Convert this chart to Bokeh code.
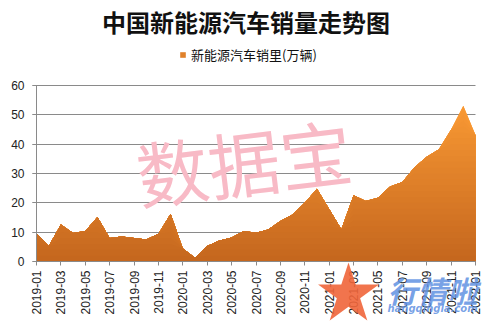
import numpy as np
from bokeh.plotting import figure
from bokeh.models import (Range1d, FixedTicker, Legend, LegendItem)
from bokeh.core.properties import value
from bokeh.embed import file_html
from bokeh.resources import INLINE

# ---- data ----
months = ["2019-01", "2019-02", "2019-03", "2019-04", "2019-05", "2019-06",
          "2019-07", "2019-08", "2019-09", "2019-10", "2019-11", "2019-12",
          "2020-01", "2020-02", "2020-03", "2020-04", "2020-05", "2020-06",
          "2020-07", "2020-08", "2020-09", "2020-10", "2020-11", "2020-12",
          "2021-01", "2021-02", "2021-03", "2021-04", "2021-05", "2021-06",
          "2021-07", "2021-08", "2021-09", "2021-10", "2021-11", "2021-12",
          "2022-01"]
sales = [9.6, 5.3, 12.6, 9.7, 10.4, 15.2, 8.0, 8.5, 8.0, 7.5, 9.5, 16.3,
         4.4, 1.3, 5.3, 7.2, 8.2, 10.4, 9.8, 10.9, 13.8, 16.0, 20.0, 24.8,
         17.9, 11.0, 22.6, 20.6, 21.7, 25.6, 27.1, 32.1, 35.7, 38.3, 45.0, 53.1,
         43.1]
y_ticks = [0, 10, 20, 30, 40, 50, 60]
title_text = "中国新能源汽车销量走势图"
series_name = "新能源汽车销里(万辆)"

x = np.arange(len(months))
v = np.array(sales)
n_last = len(months) - 1
y_max = 60

# ---- layout (pixels) : plot region inside a full-canvas frame ----
W, H = 491, 321
PL, PR, PT, PB = 36, 475, 85, 261
sx = (PR - PL) / n_last          # px per month
sy = (PB - PT) / y_max           # px per unit
x_start = -PL / sx
x_end = n_last + (W - PR) / sx
y_start = -(H - PB) / sy
y_end = y_max + PT / sy

def dy(py):   # pixel row -> data y
    return y_max + (PT - py) / sy

def dx(px):   # pixel column -> data x
    return (px - PL) / sx

p = figure(width=W, height=H, output_backend="svg", toolbar_location=None,
           x_range=Range1d(x_start, x_end), y_range=Range1d(y_start, y_end),
           min_border=0, min_border_left=0, min_border_right=0,
           min_border_top=0, min_border_bottom=0)
p.outline_line_color = None
p.background_fill_color = "white"
p.border_fill_color = "white"

# axes fixed at the data origin
p.xaxis.fixed_location = 0
p.yaxis.fixed_location = 0
p.xaxis.bounds = (0, n_last)
p.yaxis.bounds = (0, y_max)
p.xaxis.ticker = FixedTicker(ticks=list(range(0, len(months), 2)))
p.xaxis.major_label_overrides = {i: months[i] for i in range(0, len(months), 2)}
p.xaxis.major_label_orientation = np.pi / 2
p.yaxis.ticker = FixedTicker(ticks=y_ticks)
for ax in (p.xaxis, p.yaxis):
    ax.axis_line_color = "#8a8a8a"
    ax.major_tick_line_color = "#8a8a8a"
    ax.major_tick_out = 4
    ax.major_tick_in = 0
    ax.minor_tick_line_color = None
    ax.major_label_text_font = "Liberation Sans"
    ax.major_label_text_font_size = "12px"
    ax.major_label_text_color = "#222222"
p.xaxis.major_label_standoff = 5
p.yaxis.major_label_standoff = 8
p.xgrid.grid_line_color = None
p.ygrid.grid_line_color = "#8a8a8a"
p.ygrid.grid_line_width = 1
p.ygrid.ticker = FixedTicker(ticks=y_ticks)
p.ygrid.cross_bounds = (dx(32), n_last)

# watermark (behind the area)
p.text(x=[17.0], y=[34.5], text=["数据宝"], angle=0.12,
       text_font=value("Noto Sans CJK SC"), text_font_size="72px",
       text_color="#F8BAC6", text_align="center", text_baseline="middle")

# gradient-filled area: light on top, darker toward 0
top_c = np.array([250, 154, 52])
bot_c = np.array([196, 102, 30])
def col(t):
    f = min(max(t / 55.0, 0), 1)
    c = bot_c + (top_c - bot_c) * f
    return "#%02x%02x%02x" % tuple(int(round(k)) for k in c)

p.varea(x=x, y1=0, y2=v, fill_color=col(55))
step = 2.0
thresholds = np.arange(step, 56, step)[::-1]
mid_r = None
for t in thresholds:
    r = p.varea(x=x, y1=0, y2=np.minimum(v, t), fill_color=col(t - step / 2))
    if abs(t - 30) < 1e-6:
        mid_r = r

# title
p.text(x=[dx(245.5)], y=[dy(21)], text=[title_text], text_align="center",
       text_baseline="middle", text_font=value("Noto Sans CJK SC"),
       text_font_style="bold", text_font_size="24px", text_color="#111111")

# legend
leg = Legend(items=[LegendItem(label=series_name, renderers=[mid_r])],
             location=(179, H - 64), glyph_width=7, glyph_height=7,
             label_standoff=5, padding=0, margin=0, spacing=0,
             border_line_color=None, background_fill_alpha=0,
             label_text_font="Noto Sans CJK SC", label_text_font_size="13px",
             label_text_color="#111111", label_height=14)
p.add_layout(leg)

# site logo watermark (drawn over the axis labels)
p.scatter(x=[dx(348)], y=[dy(294)], marker="star", size=64,
          fill_color="#F0653A", line_color=None, fill_alpha=0.9,
          level="overlay")
p.text(x=[dx(432)], y=[dy(289)], text=["行情啦"], text_align="center",
       text_baseline="middle", text_font=value("Noto Sans CJK SC"),
       text_font_style="bold italic", text_font_size="30px",
       text_color="#5F91E2", text_alpha=0.85, level="overlay")
p.text(x=[dx(432)], y=[dy(308)], text=["hangqingla.com"], text_align="center",
       text_baseline="middle", text_font=value("DejaVu Sans"),
       text_font_style="bold italic", text_font_size="10px",
       text_color="#5F91E2", text_alpha=0.85, level="overlay")

open("out.html", "w").write(file_html(p, INLINE))
